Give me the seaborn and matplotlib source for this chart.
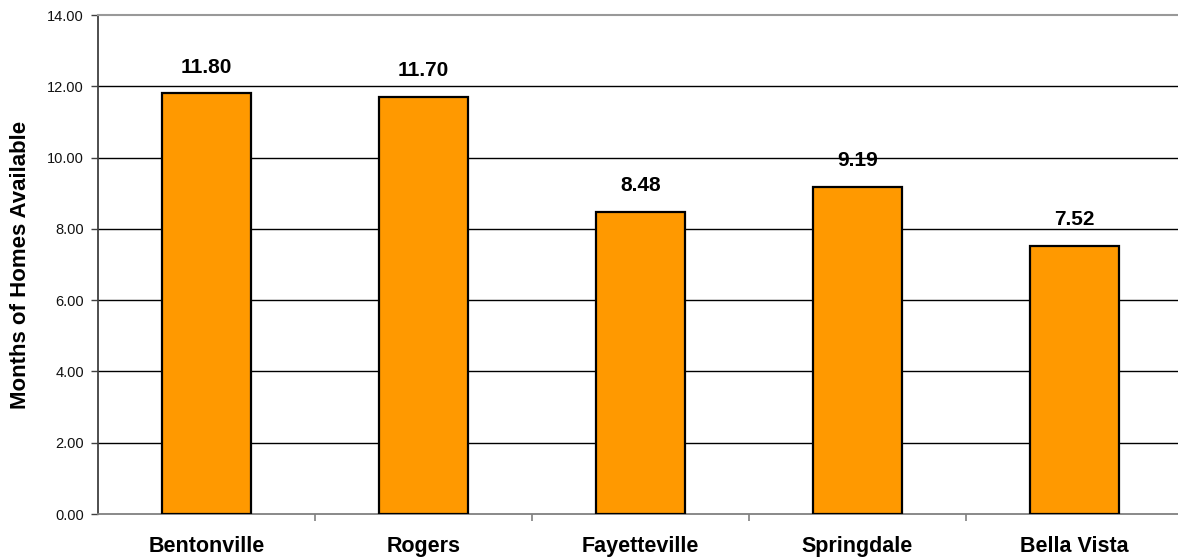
import matplotlib
matplotlib.use("Agg")
import matplotlib.pyplot as plt
import seaborn as sns
import pandas as pd
import numpy as np

# Months of housing inventory by city
cities = ["Bentonville", "Rogers", "Fayetteville", "Springdale", "Bella Vista"]
months = [11.80, 11.70, 8.48, 9.19, 7.52]
y_ticks = [0.0, 2.0, 4.0, 6.0, 8.0, 10.0, 12.0, 14.0]

df = pd.DataFrame({"city": cities, "months": months})

sns.set_theme(style="white")
plt.rcParams["font.family"] = ["Liberation Sans", "DejaVu Sans"]

fig = plt.figure(figsize=(11.78, 5.59), dpi=100)
ax = fig.add_axes([0.0832, 0.0805, 0.921, 0.8925])

sns.barplot(data=df, x="city", y="months", color="#FF9900", saturation=1,
            edgecolor="black", linewidth=1.6, width=0.41, ax=ax, zorder=3)

ax.set_xlim(-0.5, len(cities) - 0.5)
ax.set_ylim(0, 14)
ax.set_yticks(y_ticks)
ax.set_yticklabels([f"{v:.2f}" for v in y_ticks], fontsize=10.5, color="#111111")

# horizontal gridlines
for v in y_ticks[1:-1]:
    ax.axhline(v, color="black", linewidth=1.0, zorder=1)

ax.set_xlabel("")
ax.set_ylabel("Months of Homes Available", fontsize=16, fontweight="bold",
              labelpad=12, color="black")
ax.set_xticks(range(len(cities)))
ax.set_xticklabels(cities, fontsize=15.5, fontweight="bold", color="black")

# category separator ticks
ax.set_xticks(np.arange(0.5, len(cities) - 0.5, 1.0), minor=True)
ax.tick_params(axis="x", which="major", length=0, pad=16)
ax.tick_params(axis="x", which="minor", length=5, width=1.2, color="#808080",
               direction="out", bottom=True)
ax.tick_params(axis="y", which="major", length=5, width=1.0, color="#404040",
               direction="out", left=True, pad=5)

for side in ["left", "right", "top", "bottom"]:
    ax.spines[side].set_visible(False)
ax.spines["left"].set_visible(True)
ax.spines["left"].set_color("#404040")
ax.spines["left"].set_linewidth(1.3)
ax.spines["bottom"].set_visible(True)
ax.spines["bottom"].set_color("#808080")
ax.spines["bottom"].set_linewidth(1.3)
ax.spines["top"].set_visible(True)
ax.spines["top"].set_color("#999999")
ax.spines["top"].set_linewidth(1.5)

# value labels above each bar
for i, v in enumerate(months):
    ax.annotate(f"{v:.2f}", xy=(i, v), xytext=(0, 12), textcoords="offset points",
                ha="center", va="bottom", fontsize=15, fontweight="bold",
                color="black")

fig.savefig("out.png", dpi=100)
